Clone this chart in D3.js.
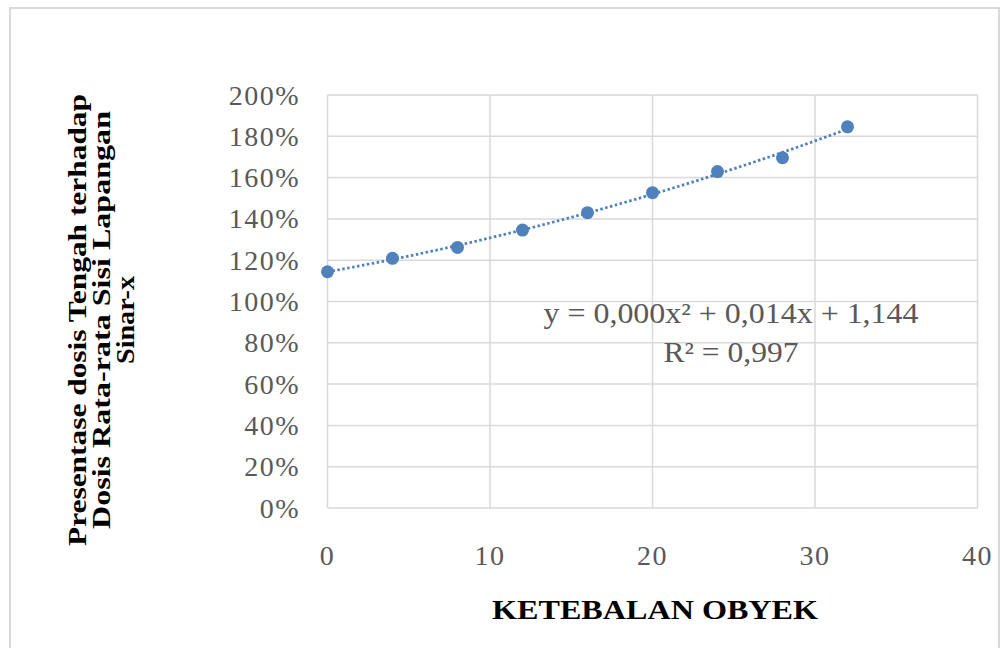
<!DOCTYPE html>
<html>
<head>
<meta charset="utf-8">
<script src="https://cdn.jsdelivr.net/npm/d3@7"></script>
<style>
  body { margin: 0; background: #fff; }
  svg { display: block; font-family: "Liberation Serif", "Times New Roman", serif; }
</style>
</head>
<body>
<svg id="chart" width="1005" height="648"></svg>
<script>
// data
const thickness = [0, 4, 8, 12, 16, 20, 24, 28, 32];
const dosePct = [1.144, 1.209, 1.262, 1.346, 1.430, 1.527, 1.629, 1.696, 1.846];
const xTicks = [0, 10, 20, 30, 40];
const yTicks = [0, 0.2, 0.4, 0.6, 0.8, 1.0, 1.2, 1.4, 1.6, 1.8, 2.0];
const yTitleLines = ["Presentase dosis Tengah terhadap", "Dosis Rata-rata Sisi Lapangan", "Sinar-x"];
const xTitle = "KETEBALAN OBYEK";
const eqLines = ["y = 0,000x\u00b2 + 0,014x + 1,144", "R\u00b2 = 0,997"];

const svg = d3.select("#chart");
const blue = "#4f81bd";
const grid = "#d9d9d9";
const tickCol = "#595959";

// outer chart border
svg.append("rect")
    .attr("x", 10).attr("y", 8)
    .attr("width", 989).attr("height", 700)
    .attr("fill", "none").attr("stroke", grid).attr("stroke-width", 2);

const x = d3.scaleLinear().domain([0, 40]).range([327.5, 977.5]);
const y = d3.scaleLinear().domain([0, 2]).range([508, 95]);

// gridlines
svg.append("g").selectAll("line").data(yTicks).join("line")
    .attr("x1", x(0)).attr("x2", x(40))
    .attr("y1", d => y(d)).attr("y2", d => y(d))
    .attr("stroke", grid).attr("stroke-width", 1.5);
svg.append("g").selectAll("line").data(xTicks).join("line")
    .attr("x1", d => x(d)).attr("x2", d => x(d))
    .attr("y1", y(0)).attr("y2", y(2))
    .attr("stroke", grid).attr("stroke-width", 1.5);

// tick labels
svg.append("g").selectAll("text").data(yTicks).join("text")
    .attr("x", 300).attr("y", d => y(d) + 9.5)
    .attr("text-anchor", "end")
    .attr("font-size", 28).attr("letter-spacing", 1.5)
    .attr("fill", tickCol)
    .text(d => d3.format(".0%")(d));
svg.append("g").selectAll("text").data(xTicks).join("text")
    .attr("x", d => x(d)).attr("y", 565)
    .attr("text-anchor", "middle")
    .attr("font-size", 28).attr("letter-spacing", 1.5)
    .attr("fill", tickCol)
    .text(d => d);

// quadratic least-squares trendline
function quadFit(xs, ys) {
    const s = k => d3.sum(xs, v => Math.pow(v, k));
    const t = k => d3.sum(xs, (v, i) => Math.pow(v, k) * ys[i]);
    const M = [[s(4), s(3), s(2)], [s(3), s(2), s(1)], [s(2), s(1), xs.length]];
    const b = [t(2), t(1), t(0)];
    const det = m => m[0][0] * (m[1][1] * m[2][2] - m[1][2] * m[2][1])
        - m[0][1] * (m[1][0] * m[2][2] - m[1][2] * m[2][0])
        + m[0][2] * (m[1][0] * m[2][1] - m[1][1] * m[2][0]);
    const D = det(M);
    return [0, 1, 2].map(c => det(M.map((row, r) => row.map((v, j) => j === c ? b[r] : v))) / D);
}
const [qa, qb, qc] = quadFit(thickness, dosePct);
const trendX = d3.range(0, 32.01, 0.5);
svg.append("path")
    .datum(trendX)
    .attr("d", d3.line().x(d => x(d)).y(d => y(qa * d * d + qb * d + qc)))
    .attr("fill", "none")
    .attr("stroke", blue).attr("stroke-width", 2.75)
    .attr("stroke-dasharray", "2.5,2.5");

// markers
svg.append("g").selectAll("circle").data(thickness).join("circle")
    .attr("cx", d => x(d))
    .attr("cy", (d, i) => y(dosePct[i]))
    .attr("r", 6.5)
    .attr("fill", blue);

// trendline equation
const eqLens = [375, 135];
svg.append("g").selectAll("text").data(eqLines).join("text")
    .attr("x", (d, i) => 731 - eqLens[i] / 2).attr("y", (d, i) => 323 + i * 39)
    .attr("font-size", 29)
    .attr("textLength", (d, i) => eqLens[i]).attr("lengthAdjust", "spacingAndGlyphs")
    .attr("fill", tickCol)
    .text(d => d);

// axis titles
svg.append("text")
    .attr("x", 492).attr("y", 619)
    .attr("font-size", 27).attr("font-weight", "bold")
    .attr("textLength", 326).attr("lengthAdjust", "spacingAndGlyphs")
    .attr("fill", "#000")
    .text(xTitle);

const yLens = [452, 418, 88];
const yTitle = svg.append("g").attr("transform", "translate(0,320) rotate(-90)");
yTitle.selectAll("text").data(yTitleLines).join("text")
    .attr("x", (d, i) => -yLens[i] / 2)
    .attr("y", (d, i) => 86 + i * 24)
    .attr("font-size", 25).attr("font-weight", "bold")
    .attr("textLength", (d, i) => yLens[i]).attr("lengthAdjust", "spacingAndGlyphs")
    .attr("fill", "#000")
    .text(d => d);
</script>
</body>
</html>
